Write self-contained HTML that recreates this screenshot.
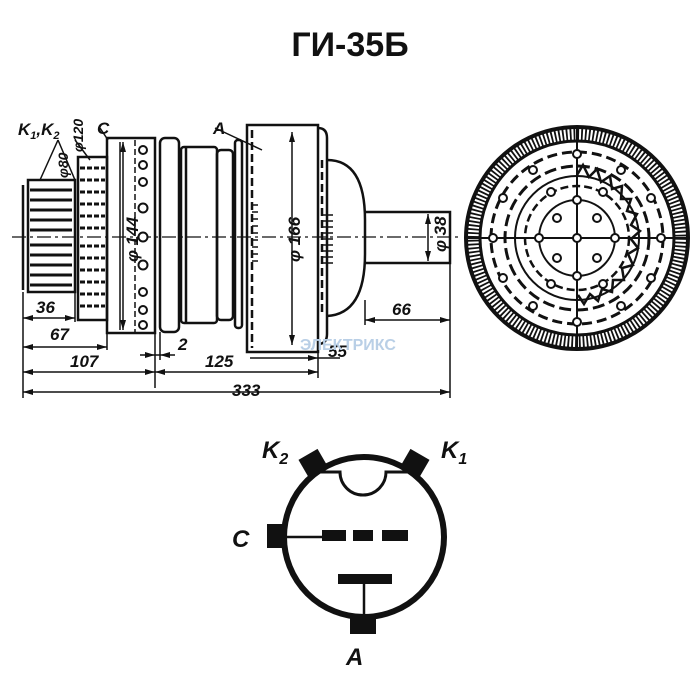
<!DOCTYPE html>
<html><head><meta charset="utf-8"><style>
html,body{margin:0;padding:0;background:#fff;}
svg{display:block}
text{font-family:"Liberation Sans",sans-serif;font-style:italic;font-weight:bold;fill:#111}
</style></head><body>
<svg width="699" height="699" viewBox="0 0 699 699" xmlns="http://www.w3.org/2000/svg">
<text x="350" y="56" text-anchor="middle" style="font-style:normal;font-size:34px">ГИ-35Б</text>

<g stroke="#111" fill="none" stroke-width="2.5">
<!-- centerline -->
<line x1="12" y1="237" x2="460" y2="237" stroke-width="1.2" stroke-dasharray="14,4,3,4"/>
<!-- base block -->
<rect x="28" y="180" width="47" height="112"/>
<line x1="23" y1="185" x2="23" y2="290"/>
<g stroke-width="3">
<line x1="30" y1="190" x2="72" y2="190"/><line x1="30" y1="200" x2="72" y2="200"/><line x1="30" y1="210" x2="72" y2="210"/><line x1="30" y1="220" x2="72" y2="220"/><line x1="30" y1="230" x2="72" y2="230"/><line x1="30" y1="245" x2="72" y2="245"/><line x1="30" y1="255" x2="72" y2="255"/><line x1="30" y1="265" x2="72" y2="265"/><line x1="30" y1="275" x2="72" y2="275"/><line x1="30" y1="285" x2="72" y2="285"/>
</g>
<!-- φ120 block -->
<rect x="78" y="157" width="29" height="163"/>
<g stroke-width="3" stroke-dasharray="5,2">
<line x1="80" y1="168" x2="105" y2="168"/><line x1="80" y1="180" x2="105" y2="180"/><line x1="80" y1="192" x2="105" y2="192"/><line x1="80" y1="204" x2="105" y2="204"/><line x1="80" y1="216" x2="105" y2="216"/><line x1="80" y1="228" x2="105" y2="228"/><line x1="80" y1="246" x2="105" y2="246"/><line x1="80" y1="258" x2="105" y2="258"/><line x1="80" y1="270" x2="105" y2="270"/><line x1="80" y1="282" x2="105" y2="282"/><line x1="80" y1="294" x2="105" y2="294"/><line x1="80" y1="306" x2="105" y2="306"/>
</g>
<!-- C block -->
<rect x="107" y="138" width="48" height="195"/>
<line x1="135" y1="140" x2="135" y2="332" stroke-width="1.5" stroke-dasharray="6,3"/>
<g fill="#fff" stroke-width="2">
<circle cx="143" cy="150" r="4"/><circle cx="143" cy="165" r="4"/><circle cx="143" cy="182" r="4"/><circle cx="143" cy="208" r="4.5"/><circle cx="143" cy="237" r="4.5"/><circle cx="143" cy="265" r="4.5"/><circle cx="143" cy="292" r="4"/><circle cx="143" cy="310" r="4"/><circle cx="143" cy="325" r="4"/>
</g>
<line x1="120" y1="142" x2="120" y2="330" stroke-width="1.5"/>
<!-- ring -->
<rect x="160" y="138" width="19" height="194" rx="5"/>
<!-- body -->
<rect x="181" y="147" width="36" height="176" rx="3"/>
<line x1="186" y1="147" x2="186" y2="323"/>
<rect x="217" y="150" width="16" height="170" rx="4"/>
<rect x="235" y="140" width="7" height="188" rx="3"/>
<!-- anode cylinder -->
<rect x="247" y="125" width="71" height="227"/>
<line x1="252" y1="130" x2="252" y2="348" stroke-dasharray="8,4"/>
<path d="M318 128 q9 0 9 10 v196 q0 10 -9 10"/>
<line x1="322" y1="160" x2="322" y2="315" stroke-dasharray="8,4"/>
<g stroke-width="1.5">
<line x1="252" y1="205" x2="258" y2="205"/><line x1="252" y1="212" x2="258" y2="212"/><line x1="252" y1="219" x2="258" y2="219"/><line x1="252" y1="226" x2="258" y2="226"/><line x1="252" y1="233" x2="258" y2="233"/><line x1="252" y1="240" x2="258" y2="240"/><line x1="252" y1="247" x2="258" y2="247"/><line x1="252" y1="254" x2="258" y2="254"/><line x1="252" y1="261" x2="258" y2="261"/>
<line x1="322" y1="215" x2="333" y2="215"/><line x1="322" y1="221" x2="333" y2="221"/><line x1="322" y1="227" x2="333" y2="227"/><line x1="322" y1="233" x2="333" y2="233"/><line x1="322" y1="239" x2="333" y2="239"/><line x1="322" y1="245" x2="333" y2="245"/><line x1="322" y1="251" x2="333" y2="251"/><line x1="322" y1="257" x2="333" y2="257"/><line x1="322" y1="263" x2="333" y2="263"/>
</g>
<!-- dome -->
<path d="M327 160 q38 0 38 60 v34 q0 60 -38 62"/>
<!-- stem -->
<path d="M365 212 h85 v51 h-85"/>
<!-- dimension lines -->
<g stroke-width="1.5">
<line x1="23" y1="292" x2="23" y2="398"/>
<line x1="75" y1="292" x2="75" y2="322"/>
<line x1="107" y1="320" x2="107" y2="350"/>
<line x1="155" y1="333" x2="155" y2="388"/>
<line x1="160" y1="332" x2="160" y2="360"/>
<line x1="318" y1="352" x2="318" y2="378"/>
<line x1="365" y1="300" x2="365" y2="325"/>
<line x1="450" y1="263" x2="450" y2="398"/>
<line x1="23" y1="318" x2="75" y2="318"/>
<line x1="23" y1="347" x2="107" y2="347"/>
<line x1="23" y1="372" x2="318" y2="372"/>
<line x1="23" y1="392" x2="450" y2="392"/>
<line x1="365" y1="320" x2="450" y2="320"/>
<line x1="140" y1="355" x2="175" y2="355"/>
<line x1="250" y1="358" x2="340" y2="358"/>
<line x1="123" y1="142" x2="123" y2="330"/>
<line x1="292" y1="132" x2="292" y2="345"/>
<line x1="428" y1="214" x2="428" y2="261"/>
<line x1="215" y1="128" x2="262" y2="150"/>
<line x1="58" y1="140" x2="40" y2="180"/><line x1="58" y1="140" x2="75" y2="180"/>
<line x1="75" y1="140" x2="90" y2="160"/>
<line x1="100" y1="128" x2="108" y2="140"/>
</g>
</g>
<!-- arrowheads -->
<g fill="#111">
<path d="M23 318 l10 -3 v6z"/><path d="M75 318 l-10 -3 v6z"/>
<path d="M23 347 l10 -3 v6z"/><path d="M107 347 l-10 -3 v6z"/>
<path d="M23 372 l10 -3 v6z"/><path d="M155 372 l-10 -3 v6z"/><path d="M155 372 l10 -3 v6z"/><path d="M318 372 l-10 -3 v6z"/>
<path d="M23 392 l10 -3 v6z"/><path d="M450 392 l-10 -3 v6z"/>
<path d="M365 320 l10 -3 v6z"/><path d="M450 320 l-10 -3 v6z"/>
<path d="M123 142 l-3 10 h6z"/><path d="M123 330 l-3 -10 h6z"/>
<path d="M292 132 l-3 10 h6z"/><path d="M292 345 l-3 -10 h6z"/>
<path d="M428 214 l-3 10 h6z"/><path d="M428 261 l-3 -10 h6z"/>
<path d="M155 355 l-10 -3 v6z"/><path d="M160 355 l10 -3 v6z"/>
<path d="M318 358 l-10 -3 v6z"/>
</g>
<g style="font-size:17px">
<text x="18" y="135">K<tspan font-size="11" dy="4">1</tspan><tspan dy="-4">,K</tspan><tspan font-size="11" dy="4">2</tspan></text>
<text x="97" y="134">C</text>
<text x="213" y="134">A</text>
<text x="36" y="313">36</text>
<text x="50" y="340">67</text>
<text x="70" y="367">107</text>
<text x="205" y="367">125</text>
<text x="178" y="350">2</text>
<text x="328" y="357">55</text>
<text x="392" y="315">66</text>
<text x="232" y="396">333</text>
<text transform="translate(138,262) rotate(-90)">φ 144</text>
<text transform="translate(300,262) rotate(-90)">φ 166</text>
<text transform="translate(446,252) rotate(-90)">φ 38</text>
<text transform="translate(68,178) rotate(-90)" style="font-size:14px">φ80</text>
<text transform="translate(83,152) rotate(-90)" style="font-size:14px">φ120</text>
</g>
<text x="300" y="350" style="font-size:16px;fill:#b9cfe6;font-style:normal">ЭЛЕКТРИКС</text>

<!-- end view -->
<g fill="none" stroke="#111">
<circle cx="577" cy="238" r="111" stroke-width="4"/>
<circle cx="577" cy="238" r="104" stroke-width="12" stroke-dasharray="1.8,2"/>
<circle cx="577" cy="238" r="97" stroke-width="3"/>
<circle cx="577" cy="238" r="86" stroke-width="3" stroke-dasharray="10,5"/>
<circle cx="577" cy="238" r="72" stroke-width="3" stroke-dasharray="12,5"/>
<circle cx="577" cy="238" r="62" stroke-width="2"/>
<circle cx="577" cy="238" r="52" stroke-width="2.5" stroke-dasharray="8,4"/>
<circle cx="577" cy="238" r="38" stroke-width="2"/>
<line x1="577" y1="127" x2="577" y2="349" stroke-width="2"/>
<line x1="466" y1="238" x2="688" y2="238" stroke-width="2"/>
<path d="M577 175 l6 -10 l6 12 l8 -8 l4 13 l9 -6 l2 13 l10 -3 l-1 13 l10 0 l-4 12 l10 3 l-6 11 l9 6 l-9 8 l7 9 l-10 6 l5 11 l-11 3 l2 12 l-11 0 l-1 12 l-10 -3 l-4 12 l-8 -7 l-6 10 l-6 -9" stroke-width="2.5"/>
</g>
<g fill="#fff" stroke="#111" stroke-width="2">
<circle cx="577" cy="200" r="4"/><circle cx="577" cy="276" r="4"/><circle cx="539" cy="238" r="4"/><circle cx="615" cy="238" r="4"/>
<circle cx="557" cy="218" r="4"/><circle cx="597" cy="218" r="4"/><circle cx="557" cy="258" r="4"/><circle cx="597" cy="258" r="4"/>
<circle cx="577" cy="238" r="4"/>
<circle cx="551" cy="192" r="4"/><circle cx="603" cy="192" r="4"/><circle cx="551" cy="284" r="4"/><circle cx="603" cy="284" r="4"/>
<circle cx="503" cy="198" r="4"/><circle cx="651" cy="198" r="4"/><circle cx="503" cy="278" r="4"/><circle cx="651" cy="278" r="4"/>
<circle cx="533" cy="170" r="4"/><circle cx="621" cy="306" r="4"/><circle cx="533" cy="306" r="4"/><circle cx="621" cy="170" r="4"/>
<circle cx="493" cy="238" r="4"/><circle cx="661" cy="238" r="4"/><circle cx="577" cy="154" r="4"/><circle cx="577" cy="322" r="4"/>
</g>

<!-- schematic -->
<g fill="none" stroke="#111">
<circle cx="364" cy="537" r="80" stroke-width="6"/>
<path d="M312 472 L340 472 A22 22 0 0 0 386 472 L416 472" stroke-width="3"/>
<line x1="287" y1="537" x2="322" y2="537" stroke-width="2.5"/>
<line x1="364" y1="583" x2="364" y2="617" stroke-width="2.5"/>
</g>
<g fill="#111">
<rect x="302" y="453" width="22" height="20" transform="rotate(-30 313 463)"/>
<rect x="404" y="453" width="22" height="20" transform="rotate(30 415 463)"/>
<rect x="267" y="524" width="20" height="24"/>
<rect x="350" y="614" width="26" height="20"/>
<rect x="322" y="530" width="24" height="11"/>
<rect x="353" y="530" width="20" height="11"/>
<rect x="382" y="530" width="26" height="11"/>
<rect x="338" y="574" width="54" height="10"/>
</g>
<g style="font-size:24px">
<text x="262" y="458">K<tspan font-size="16" dy="6">2</tspan></text>
<text x="441" y="458">K<tspan font-size="16" dy="6">1</tspan></text>
<text x="232" y="547">C</text>
<text x="346" y="665">A</text>
</g>
</svg>
</body></html>
